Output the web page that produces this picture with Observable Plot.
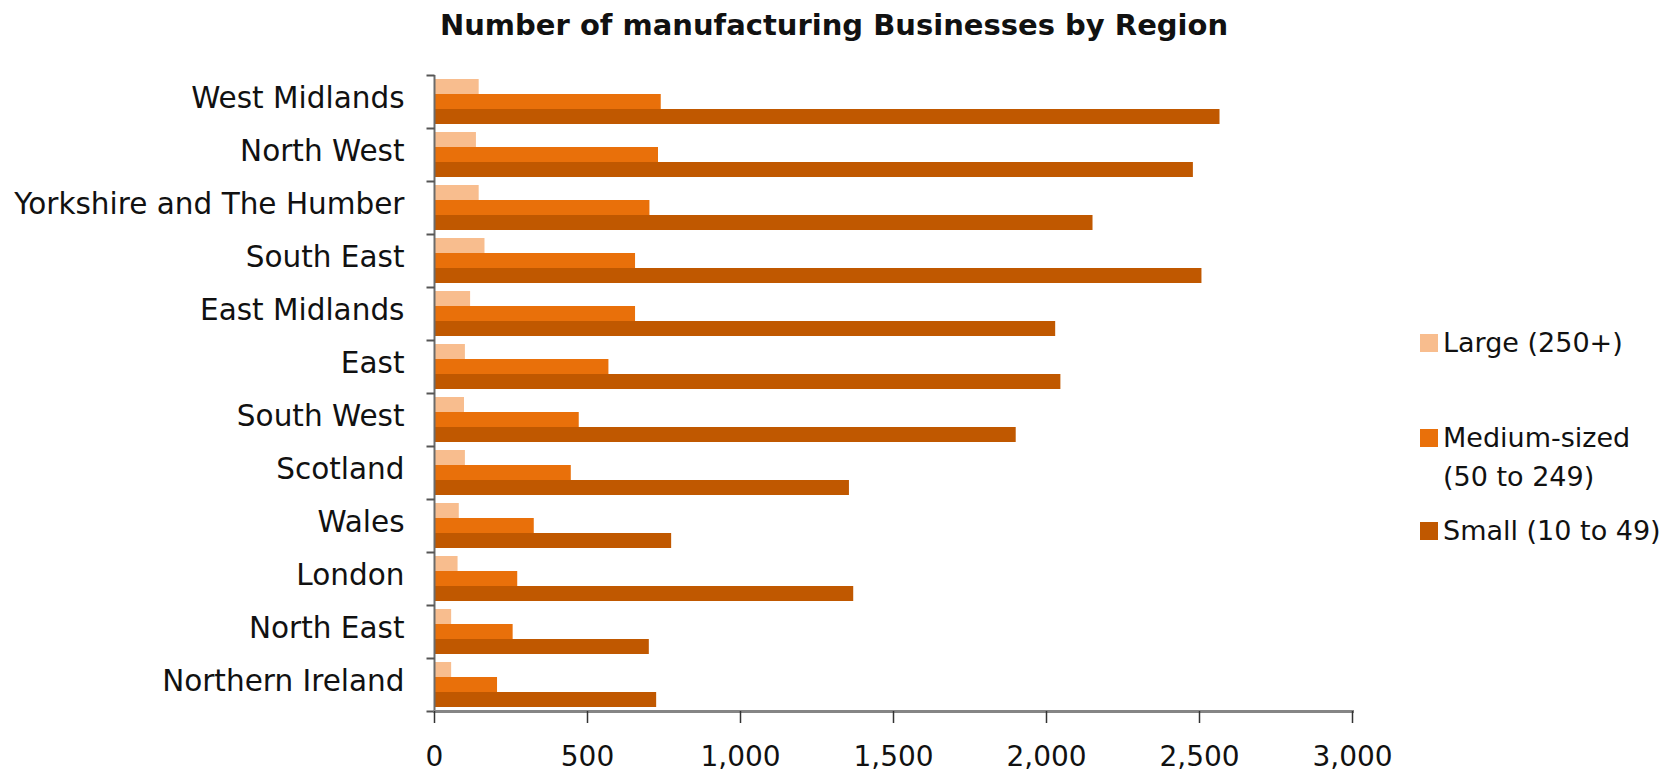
<!DOCTYPE html>
<html>
<head>
<meta charset="utf-8">
<script src="https://cdn.jsdelivr.net/npm/d3@7"></script>
<script src="https://cdn.jsdelivr.net/npm/@observablehq/plot@0.6"></script>
<style>
  html, body { margin: 0; padding: 0; background: #fff; }
  body { width: 1668px; height: 773px; position: relative; overflow: hidden; font-family: "DejaVu Sans", sans-serif; color: #111; }
  #title { height: 60px; text-align: center; font-weight: bold; font-size: 29px; line-height: 50px; color: #111; }
  #chart { position: absolute; left: 0; top: 60px; }
  #legend { position: absolute; left: 1420px; top: 0; font-size: 27px; color: #111; }
  .item { position: absolute; left: 0; display: flex; align-items: flex-start; white-space: nowrap; }
  .sw { width: 18px; height: 18px; margin-right: 5px; flex: none; }
  .lbl { line-height: 39px; }
</style>
</head>
<body>
<div id="title">Number of manufacturing Businesses by Region</div>
<div id="chart"></div>
<div id="legend"></div>
<script>
const regions = ["West Midlands", "North West", "Yorkshire and The Humber", "South East", "East Midlands", "East", "South West", "Scotland", "Wales", "London", "North East", "Northern Ireland"];
const sizes = ["Large (250+)", "Medium-sized (50 to 249)", "Small (10 to 49)"];
const legendLines = [["Large (250+)"], ["Medium-sized", "(50 to 249)"], ["Small (10 to 49)"]];
const colors = ["#f8bd8e", "#e9700a", "#c05800"];
const large  = [146, 137, 146, 165, 118, 101, 98, 101, 81, 77, 56, 56];
const medium = [741, 732, 704, 657, 657, 570, 473, 447, 326, 272, 257, 206];
const small  = [2567, 2480, 2152, 2508, 2030, 2047, 1901, 1356, 775, 1370, 702, 726];
const xTicks = [0, 500, 1000, 1500, 2000, 2500, 3000];

const series = [large, medium, small];
const data = [];
regions.forEach((r, i) => sizes.forEach((s, j) => data.push({region: r, size: s, value: series[j][i]})));

const hline = {
  draw(ctx, size) {
    const r = Math.sqrt(size / Math.PI);
    ctx.moveTo(-r, 0);
    ctx.lineTo(r, 0);
  }
};

const plot = Plot.plot({
  width: 1430,
  height: 713,
  marginLeft: 434,
  marginRight: 78,
  marginTop: 9,
  marginBottom: 57,
  style: {fontFamily: "DejaVu Sans", fontSize: "29px", color: "#111", background: "transparent", overflow: "visible"},
  x: {domain: [0, 3000], label: null},
  y: {domain: sizes, paddingInner: 0, paddingOuter: 0.24, axis: null},
  fy: {domain: regions, padding: 0, label: null},
  color: {domain: sizes, range: colors},
  marks: [
    Plot.barX(data, {x: "value", y: "size", fy: "region", fill: "size"}),
    Plot.ruleX(regions, {x: 0, fy: d => d, stroke: "#6b6b6b", strokeWidth: 2}),
    Plot.dot(regions, {fy: d => d, frameAnchor: "top-left", symbol: hline, r: 4, dx: -4, fill: "none", stroke: "#555", strokeWidth: 2}),
    Plot.dot([regions[regions.length - 1]], {fy: d => d, frameAnchor: "bottom-left", symbol: hline, r: 4, dx: -4, fill: "none", stroke: "#555", strokeWidth: 2}),
    Plot.frame({anchor: "bottom", fy: () => regions[regions.length - 1], stroke: "#858585", strokeWidth: 3}),
    Plot.axisFy({anchor: "left", tickSize: 0, tickPadding: 30, label: null, fontSize: 29.5, dy: -3}),
    Plot.axisX({ticks: xTicks, tickFormat: d3.format(","), tickSize: 12, tickPadding: 23, fontSize: 28, stroke: "#333", strokeWidth: 1.5, label: null})
  ]
});
document.getElementById("chart").appendChild(plot);

const legend = document.getElementById("legend");
const tops = [323, 418, 511];
legendLines.forEach((lines, i) => {
  const item = document.createElement("div");
  item.className = "item";
  item.style.top = tops[i] + "px";
  const sw = document.createElement("div");
  sw.className = "sw";
  sw.style.background = colors[i];
  sw.style.marginTop = "11px";
  const lbl = document.createElement("div");
  lbl.className = "lbl";
  lbl.innerHTML = lines.join("<br>");
  item.appendChild(sw);
  item.appendChild(lbl);
  legend.appendChild(item);
});
</script>
</body>
</html>
